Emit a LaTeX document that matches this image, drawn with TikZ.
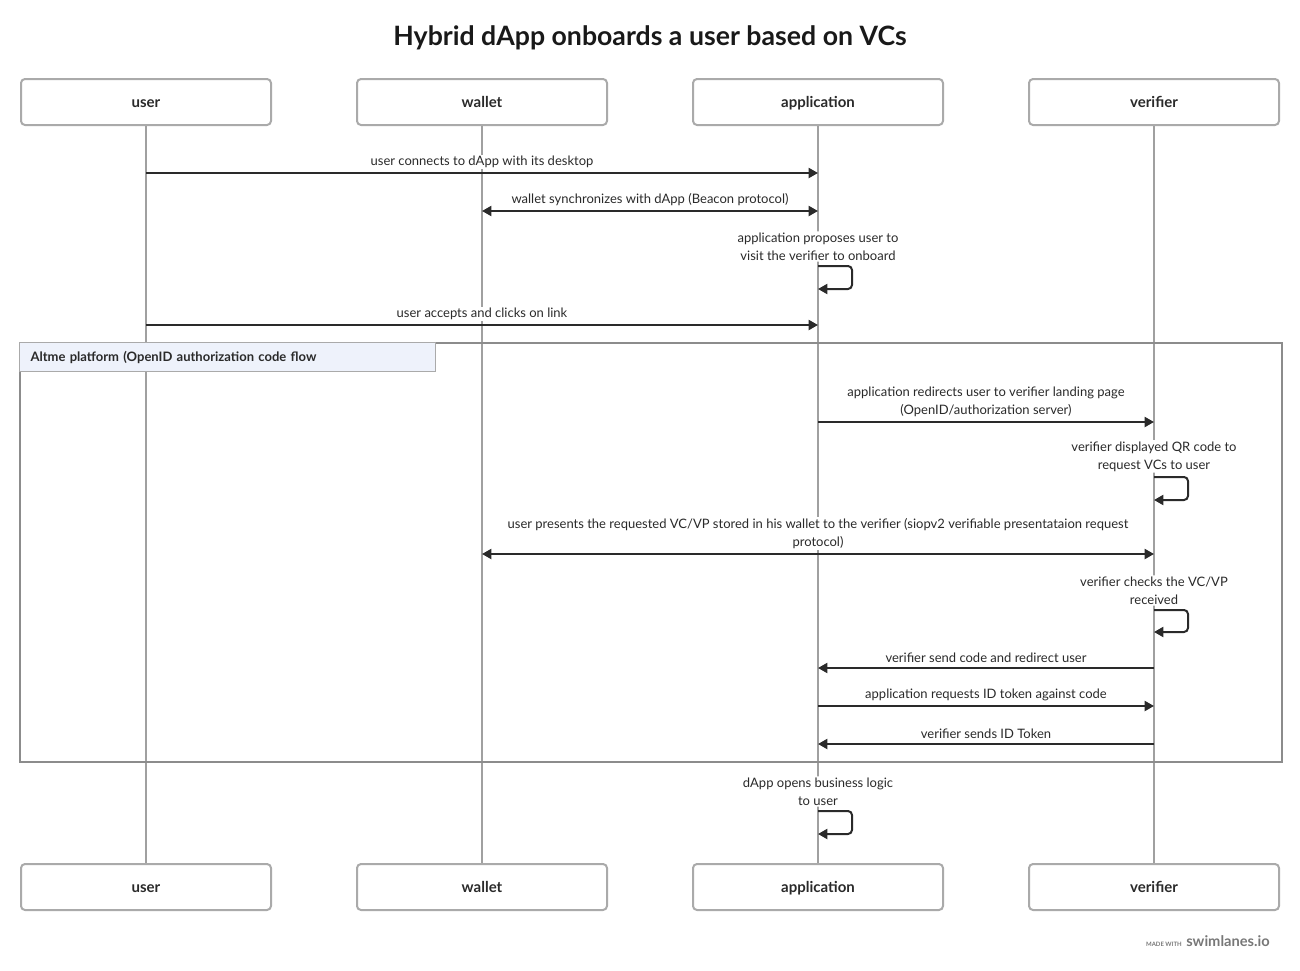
\documentclass[tikz,border=0pt]{standalone}
\usepackage{fontspec}
\setmainfont{Lato}
\usetikzlibrary{arrows.meta}
\definecolor{lifegray}{HTML}{A0A0A0}
\definecolor{boxgray}{HTML}{AAAAAA}
\definecolor{ink}{HTML}{2A2A2A}
\definecolor{grpfill}{HTML}{EEF2FB}
\definecolor{grpgray}{HTML}{8C8C8C}
\definecolor{footgray}{HTML}{777777}
\begin{document}
\begin{tikzpicture}[x=0.75pt,y=-0.75pt,
  actor/.style={draw=boxgray, line width=1.5pt, rounded corners=3pt, fill=white,
    minimum width=187.5pt, minimum height=34.5pt, inner sep=0pt, text=ink,
    text height=9.5pt, text depth=0.7pt,
    font=\bfseries\fontsize{11.25}{13}\selectfont},
  life/.style={draw=lifegray, line width=1.5pt},
  msg/.style={draw=ink, line width=1.5pt, -{Triangle[length=7pt,width=7.5pt]}},
  bimsg/.style={draw=ink, line width=1.5pt, {Triangle[length=7pt,width=7.5pt]}-{Triangle[length=7pt,width=7.5pt]}},
  selfmsg/.style={msg, rounded corners=3pt},
  lbl/.style={font=\fontsize{9.75}{13.5}\selectfont, text=ink, align=center,
    fill=white, inner sep=1pt},
  grpbox/.style={draw=grpgray, line width=1.5pt, inner sep=0pt, anchor=north west},
  grplbl/.style={draw=boxgray, line width=0.75pt, fill=grpfill, anchor=north west,
    minimum height=21.75pt, text width=295.5pt, inner xsep=8.25pt, inner ysep=0pt,
    align=left, text=ink, font=\bfseries\fontsize{9.75}{12}\selectfont}
]
\useasboundingbox (0,0) rectangle (1300,971);

% title
\node (title) [font=\bfseries\fontsize{20}{23}\selectfont, text=black!90] at (650,38)
  {Hybrid dApp onboards a user based on VCs};

% actors top and bottom
\node (uT) [actor] at (146,102) {user};
\node (wT) [actor] at (482,102) {wallet};
\node (aT) [actor] at (818,102) {application};
\node (vT) [actor] at (1154,102) {verifier};
\node (uB) [actor] at (146,887) {user};
\node (wB) [actor] at (482,887) {wallet};
\node (aB) [actor] at (818,887) {application};
\node (vB) [actor] at (1154,887) {verifier};

% lifelines
\draw[life] (uT.south) -- (uB.north);
\draw[life] (wT.south) -- (wB.north);
\draw[life] (aT.south) -- (aB.north);
\draw[life] (vT.south) -- (vB.north);

% group
\node (grp) [grpbox, minimum width=946.5pt, minimum height=314.25pt] at (19,342) {};
\node (grplabel) [grplbl] at (19,342) {Altme platform (OpenID authorization code flow};

% messages
\draw[msg] (uT |- 0,173) -- node[lbl, midway, above=2pt] (m1) {user connects to dApp with its desktop} (aT |- 0,173);
\draw[bimsg] (wT |- 0,211) -- node[lbl, midway, above=2pt] (m2) {wallet synchronizes with dApp (Beacon protocol)} (aT |- 0,211);
\draw[selfmsg] (aT |- 0,266) node[lbl, above=2.5pt] (m3) {application proposes user to\\visit the verifier to onboard}
  -- ++(34,0) -- ++(0,23) -- (aT |- 0,289);
\draw[msg] (uT |- 0,325) -- node[lbl, midway, above=2pt] (m4) {user accepts and clicks on link} (aT |- 0,325);
\draw[msg] (aT |- 0,422) -- node[lbl, midway, above=2pt] (m5) {application redirects user to verifier landing page\\(OpenID/authorization server)} (vT |- 0,422);
\draw[selfmsg] (vT |- 0,477) node[lbl, above=2.5pt] (m6) {verifier displayed QR code to\\request VCs to user}
  -- ++(34,0) -- ++(0,23) -- (vT |- 0,500);
\draw[bimsg] (wT |- 0,554) -- node[lbl, midway, above=2pt] (m7) {user presents the requested VC/VP stored in his wallet to the verifier (siopv2 verifiable presentataion request\\protocol)} (vT |- 0,554);
\draw[selfmsg] (vT |- 0,610) node[lbl, above=2.5pt] (m8) {verifier checks the VC/VP\\received}
  -- ++(34,0) -- ++(0,22) -- (vT |- 0,632);
\draw[msg] (vT |- 0,668) -- node[lbl, midway, above=2pt] (m9) {verifier send code and redirect user} (aT |- 0,668);
\draw[msg] (aT |- 0,706) -- node[lbl, midway, above=2pt] (m10) {application requests ID token against code} (vT |- 0,706);
\draw[msg] (vT |- 0,744) -- node[lbl, midway, above=2pt] (m11) {verifier sends ID Token} (aT |- 0,744);
\draw[selfmsg] (aT |- 0,811) node[lbl, above=2.5pt] (m12) {dApp opens business logic\\to user}
  -- ++(34,0) -- ++(0,23) -- (aT |- 0,834);

% footer
\node (made) [anchor=base east, inner sep=0pt, text=footgray, font=\bfseries\fontsize{4.5}{5}\selectfont] at (1182,946) {MADE WITH};
\node (brand) [anchor=base west, inner sep=0pt, text=footgray, font=\bfseries\fontsize{11}{12}\selectfont] at (1186,946) {swimlanes.io};
\end{tikzpicture}
\end{document}
